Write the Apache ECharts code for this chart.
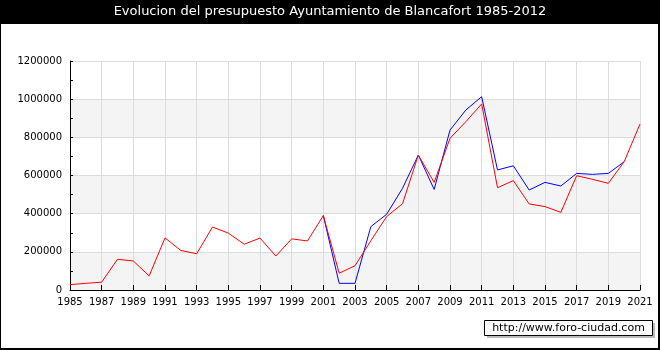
<!DOCTYPE html>
<html>
<head>
<meta charset="utf-8">
<script src="https://cdn.jsdelivr.net/npm/echarts@6/dist/echarts.min.js"></script>
<style>
html,body{margin:0;padding:0;background:#fff;}
#chart{width:660px;height:350px;}
</style>
</head>
<body>
<div id="chart"></div>
<script>
var titleText = 'Evolucion del presupuesto Ayuntamiento de Blancafort 1985-2012';
var watermark = 'http://www.foro-ciudad.com';
var years = [];
for (var y = 1985; y <= 2021; y++) years.push(String(y));
var yTicks = [0, 200000, 400000, 600000, 800000, 1000000, 1200000];
// red series 1985..2021
var redValues = [28000, 35000, 41000, 161000, 152000, 74000, 273000, 207000, 190000, 330000,
  298000, 240000, 272000, 178000, 268000, 257000, 390000, 88000, 127000, 258000,
  385000, 452000, 707000, 564000, 795000, 882000, 975000, 536000, 573000, 451000,
  437000, 407000, 599000, 580000, 559000, 672000, 870000];
// blue series 1985..2021 (null where absent)
var blueValues = [null, null, null, null, null, null, null, null, null, null,
  null, null, null, null, null, null, 390000, 35000, 35000, 332000,
  397000, 533000, 707000, 527000, 838000, 943000, 1013000, 629000, 651000, 524000,
  564000, 545000, 611000, 606000, 611000, 672000, null];

var chart = echarts.init(document.getElementById('chart'), null, {renderer: 'canvas'});
var font = 'DejaVu Sans';
chart.setOption({
  animation: false,
  backgroundColor: '#ffffff',
  grid: {left: 70, right: 20, top: 61, bottom: 60, containLabel: false},
  xAxis: {
    type: 'category',
    data: years,
    boundaryGap: false,
    axisLine: {show: true, lineStyle: {color: '#000', width: 1}},
    axisTick: {show: true, inside: true, length: 5, interval: 1, lineStyle: {color: '#000'}},
    axisLabel: {interval: 1, color: '#000', fontFamily: font, fontSize: 10, margin: 7},
    splitLine: {show: true, interval: 1, lineStyle: {color: '#dcdcdc', width: 1}}
  },
  yAxis: {
    type: 'value',
    min: yTicks[0],
    max: yTicks[yTicks.length - 1],
    interval: 200000,
    axisLine: {show: true, lineStyle: {color: '#000', width: 1}},
    axisTick: {show: true, inside: true, length: 3, lineStyle: {color: '#000'}},
    minorTick: {show: true, splitNumber: 2, length: 3, lineStyle: {color: '#000'}},
    axisLabel: {color: '#000', fontFamily: font, fontSize: 10, margin: 8,
      formatter: function (v) { return String(v); }},
    splitLine: {show: true, lineStyle: {color: '#dcdcdc', width: 1}},
    splitArea: {show: true, areaStyle: {color: ['#f4f4f4', '#ffffff']}}
  },
  series: [
    {type: 'line', data: blueValues, showSymbol: false, symbol: 'none', connectNulls: false,
     lineStyle: {color: '#0000ff', width: 1}, itemStyle: {color: '#0000ff'}, z: 2},
    {type: 'line', data: redValues, showSymbol: false, symbol: 'none',
     lineStyle: {color: '#ff0000', width: 1}, itemStyle: {color: '#ff0000'}, z: 3}
  ],
  graphic: [
    {type: 'rect', shape: {x: 0, y: 0, width: 660, height: 24}, style: {fill: '#000'}, z: 100},
    {type: 'text', x: 330, y: 12, style: {text: titleText, fill: '#fff', font: '13px DejaVu Sans', align: 'center', verticalAlign: 'middle'}, z: 101},
    {type: 'rect', shape: {x: 0, y: 0, width: 659, height: 349}, style: {fill: 'none', stroke: '#000', lineWidth: 2}, z: 100},
    {type: 'rect', shape: {x: 487, y: 323, width: 168, height: 15}, style: {fill: '#bbbbbb'}, z: 100},
    {type: 'rect', shape: {x: 484.5, y: 320.5, width: 168, height: 15}, style: {fill: '#fff', stroke: '#000', lineWidth: 1}, z: 101},
    {type: 'text', x: 568.5, y: 328, style: {text: watermark, fill: '#000', font: '11px DejaVu Sans', align: 'center', verticalAlign: 'middle'}, z: 102}
  ]
});
</script>
</body>
</html>
